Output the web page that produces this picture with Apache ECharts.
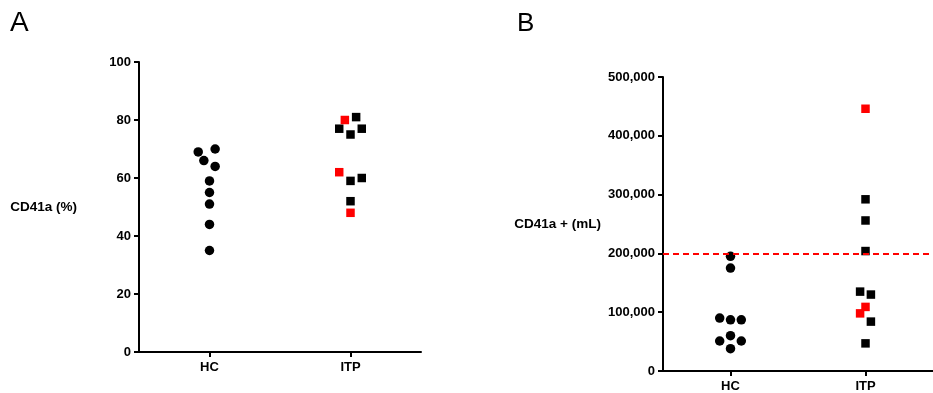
<!DOCTYPE html>
<html>
<head>
<meta charset="utf-8">
<script src="https://cdn.jsdelivr.net/npm/echarts@6/dist/echarts.min.js"></script>
<style>
  html, body { margin: 0; padding: 0; background: #fff; }
  #chart { width: 933px; height: 393px; }
</style>
</head>
<body>
<div id="chart"></div>
<script>
// Groups on the x axis (placed at positions 1 and 3 of a 0..4 value axis)
const categories = ['HC', 'ITP'];
const categoryPos = [1, 3];

// Panel A: CD41a (%)
const hcValuesA = [69, 70, 66, 64, 59, 55, 51, 44, 35];
const hcJitterA = [-0.16, 0.08, -0.08, 0.08, 0, 0, 0, 0, 0];
const itpBlackA = [81, 77, 77, 75, 59, 60, 52];
const itpBlackJitterA = [0.08, -0.16, 0.16, 0, 0, 0.16, 0];
const itpRedA = [80, 62, 48];
const itpRedJitterA = [-0.08, -0.16, 0];
const ticksA = [0, 20, 40, 60, 80, 100];

// Panel B: CD41a + (mL)
const hcValuesB = [195000, 175000, 90000, 87000, 87000, 60000, 51000, 51000, 38000];
const hcJitterB = [0, 0, -0.16, 0, 0.16, 0, -0.16, 0.16, 0];
const itpBlackB = [292000, 256000, 204000, 135000, 130000, 84000, 47000];
const itpBlackJitterB = [0, 0, 0, -0.08, 0.08, 0.08, 0];
const itpRedB = [446000, 109000, 98000];
const itpRedJitterB = [0, 0, -0.08];
const ticksB = [0, 100000, 200000, 300000, 400000, 500000];
const thresholdB = 200000;

const FONT = '"Liberation Sans", Arial, sans-serif';
const INK = '#000';
const RED = '#ff0000';

function points(values, jitter, groupIndex) {
  return values.map((v, i) => [categoryPos[groupIndex] + jitter[i], v]);
}

function xAxisFor(gridIndex) {
  return {
    type: 'value', gridIndex, min: 0, max: 4, interval: 1,
    splitLine: { show: false },
    axisLine: { show: true, onZero: false, lineStyle: { color: INK, width: 2 } },
    axisTick: { show: true, customValues: categoryPos, length: 5, lineStyle: { color: INK, width: 2 } },
    axisLabel: {
      customValues: categoryPos,
      formatter: v => categories[categoryPos.indexOf(v)] || '',
      color: INK, fontFamily: FONT, fontWeight: 'bold', fontSize: 13, margin: 9
    }
  };
}

function yAxisFor(gridIndex, ticks, name, fmt) {
  return {
    type: 'value', gridIndex,
    min: ticks[0], max: ticks[ticks.length - 1], interval: ticks[1] - ticks[0],
    splitLine: { show: false },
    axisLine: { show: true, lineStyle: { color: INK, width: 2 } },
    axisTick: { show: true, length: 5, lineStyle: { color: INK, width: 2 } },
    axisLabel: { color: INK, fontFamily: FONT, fontWeight: 'bold', fontSize: 13, margin: 8, formatter: fmt },
    name,
    nameLocation: 'middle',
    nameRotate: 0,
    nameGap: 62,
    nameTextStyle: { color: INK, fontFamily: FONT, fontWeight: 'bold', fontSize: 13.5, align: 'right' }
  };
}

const circle = { type: 'scatter', symbol: 'circle', symbolSize: 9.5, itemStyle: { color: INK, opacity: 1 }, silent: true };
const square = { type: 'scatter', symbol: 'rect', symbolSize: 8.5, silent: true };

const option = {
  animation: false,
  backgroundColor: '#fff',
  title: [
    { text: 'A', left: 5, top: 4, textStyle: { fontFamily: FONT, fontWeight: 'normal', fontSize: 28, color: INK } },
    { text: 'B', left: 512, top: 6, textStyle: { fontFamily: FONT, fontWeight: 'normal', fontSize: 26, color: INK } }
  ],
  grid: [
    { left: 139, top: 62, width: 282, height: 290 },
    { left: 663, top: 77, width: 278, height: 294 }
  ],
  xAxis: [xAxisFor(0), xAxisFor(1)],
  yAxis: [
    yAxisFor(0, ticksA, 'CD41a (%)', v => String(v)),
    yAxisFor(1, ticksB, 'CD41a + (mL)', v => v.toLocaleString('en-US'))
  ],
  series: [
    Object.assign({}, circle, { xAxisIndex: 0, yAxisIndex: 0, data: points(hcValuesA, hcJitterA, 0) }),
    Object.assign({}, square, { xAxisIndex: 0, yAxisIndex: 0, itemStyle: { color: INK, opacity: 1 }, data: points(itpBlackA, itpBlackJitterA, 1) }),
    Object.assign({}, square, { xAxisIndex: 0, yAxisIndex: 0, itemStyle: { color: RED, opacity: 1 }, data: points(itpRedA, itpRedJitterA, 1) }),
    Object.assign({}, circle, { xAxisIndex: 1, yAxisIndex: 1, data: points(hcValuesB, hcJitterB, 0) }),
    Object.assign({}, square, {
      xAxisIndex: 1, yAxisIndex: 1, itemStyle: { color: INK, opacity: 1 }, data: points(itpBlackB, itpBlackJitterB, 1),
      markLine: {
        silent: true, symbol: 'none', label: { show: false },
        lineStyle: { color: RED, type: [6, 4], width: 2, opacity: 1 },
        data: [{ yAxis: thresholdB }]
      }
    }),
    Object.assign({}, square, { xAxisIndex: 1, yAxisIndex: 1, itemStyle: { color: RED, opacity: 1 }, data: points(itpRedB, itpRedJitterB, 1), z: 3 })
  ]
};

const chart = echarts.init(document.getElementById('chart'), null, { renderer: 'canvas' });
chart.setOption(option);
</script>
</body>
</html>
